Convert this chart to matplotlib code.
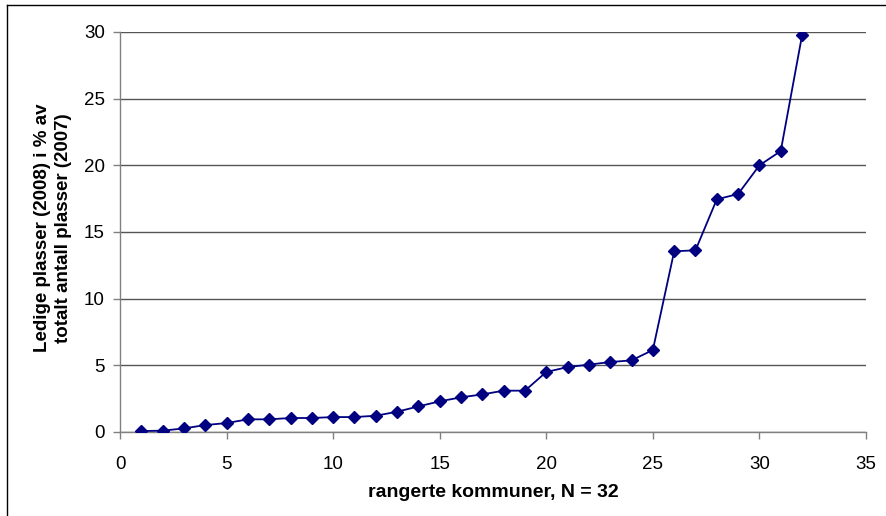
import matplotlib.pyplot as plt
from matplotlib.lines import Line2D

plt.rcParams['font.family'] = ['Liberation Sans', 'DejaVu Sans']

# rank of each municipality and share of vacant places
rank = list(range(1, 33))
ledige = [0.07, 0.1, 0.27, 0.52, 0.67, 0.95, 0.95, 1.05, 1.05, 1.12,
          1.12, 1.22, 1.52, 1.92, 2.3, 2.6, 2.82, 3.1, 3.1, 4.5,
          4.87, 5.05, 5.25, 5.37, 6.15, 13.55, 13.63, 17.45, 17.85, 20.0,
          21.07, 29.75]

x_ticks = [0, 5, 10, 15, 20, 25, 30, 35]
y_ticks = [0, 5, 10, 15, 20, 25, 30]

fig = plt.figure(figsize=(8.86, 5.16), dpi=100)
ax = fig.add_axes([120 / 886, 84 / 516, 746 / 886, 400 / 516])

ax.plot(rank, ledige, color='#000080', linewidth=1.3, marker='D',
        markersize=6, markerfacecolor='#000080', markeredgecolor='#000080',
        zorder=3)

ax.set_xlim(0, 35)
ax.set_ylim(0, 30)
ax.set_xticks(x_ticks)
ax.set_yticks(y_ticks)
ax.yaxis.grid(True, color='#555555', linewidth=1)
ax.set_axisbelow(True)

for side in ['top', 'right']:
    ax.spines[side].set_visible(False)
for side in ['left', 'bottom']:
    ax.spines[side].set_color('#808080')
    ax.spines[side].set_linewidth(1)

ax.tick_params(axis='both', direction='out', length=5, width=1,
               color='#808080', labelsize=13.5, labelcolor='black')
ax.tick_params(axis='x', pad=12)
ax.tick_params(axis='y', pad=6)

ax.set_xlabel('rangerte kommuner, N = 32', fontsize=14, fontweight='bold',
              labelpad=8)
fig.text(53 / 886, 1 - 228 / 516,
         'Ledige plasser (2008) i % av\ntotalt antall plasser (2007)',
         rotation=90, ha='center', va='center', fontsize=13.5,
         fontweight='bold', linespacing=1.3)

# outer frame (only left and top edges visible in the picture)
fig.add_artist(Line2D([7 / 886, 7 / 886], [0, 1 - 5 / 516],
                      transform=fig.transFigure, color='black', linewidth=1))
fig.add_artist(Line2D([7 / 886, 1], [1 - 5 / 516, 1 - 5 / 516],
                      transform=fig.transFigure, color='black', linewidth=1))

fig.savefig('out.png', dpi=100)
